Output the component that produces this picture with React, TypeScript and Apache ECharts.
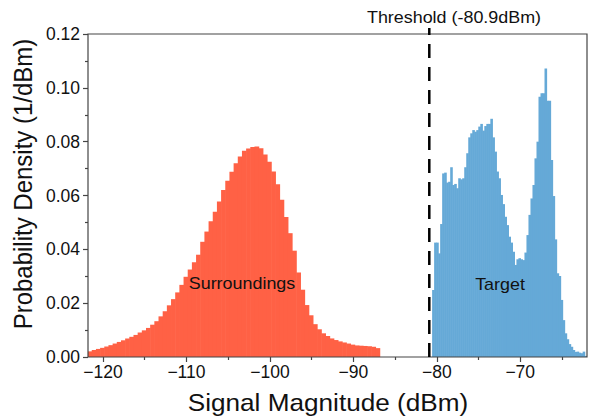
import React, { useEffect, useRef } from "react";
import * as echarts from "echarts";

// ---- data ----
const surroundStart = -121.85; // dBm, left edge of first bin
const surroundBinWidth = 0.5; // dBm
const surroundValues = [
  0.0021, 0.0026, 0.003, 0.0034, 0.0039, 0.0044, 0.005, 0.0056, 0.0062, 0.0069,
  0.0075, 0.0082, 0.0091, 0.0099, 0.0108, 0.012, 0.0133, 0.0151, 0.017, 0.0192,
  0.0215, 0.024, 0.0268, 0.0298, 0.0325, 0.0352, 0.038, 0.0428, 0.0466, 0.0504,
  0.054, 0.0578, 0.062, 0.0655, 0.0688, 0.072, 0.0745, 0.0766, 0.0775, 0.078,
  0.0782, 0.0776, 0.0752, 0.0725, 0.0689, 0.0642, 0.0584, 0.052, 0.046, 0.0395,
  0.0314, 0.025, 0.0193, 0.0155, 0.0122, 0.0103, 0.0088, 0.0078, 0.0069, 0.0063,
  0.0058, 0.0054, 0.005, 0.0046, 0.0043, 0.0042, 0.0041, 0.004, 0.0038, 0.0033,
];

const targetStart = -80.56;
const targetBinWidth = 0.2405;
const targetValues = [
  0.0249, 0.0425, 0.0425, 0.0385, 0.0494, 0.0682, 0.0685, 0.0648, 0.0651, 0.0705,
  0.0639, 0.0643, 0.0627, 0.0664, 0.066, 0.0664, 0.0705, 0.0757, 0.0816, 0.0831,
  0.0843, 0.0837, 0.0843, 0.0856, 0.0866, 0.0841, 0.0858, 0.0866, 0.0866, 0.0885,
  0.0816, 0.0763, 0.0689, 0.0664, 0.0602, 0.0568, 0.0521, 0.049, 0.0447, 0.0425,
  0.0391, 0.0342, 0.0363, 0.0367, 0.0363, 0.036, 0.0388, 0.0453, 0.0528, 0.0589,
  0.0639, 0.0738, 0.08, 0.0967, 0.098, 0.098, 0.1072, 0.0952, 0.0952, 0.0732,
  0.0598, 0.0437, 0.0311, 0.0301, 0.0212, 0.0137, 0.0088, 0.0066, 0.0048, 0.0038,
  0.0026, 0.0019, 0.002, 0.0016, 0.0014, 0.002, 0.0004,
];

const thresholdValue = -80.9;
const thresholdTop = 0.1222;
const xTickValues = [-120, -110, -100, -90, -80, -70];
const xMin = -121.8;
const xMax = -62;
const yMin = 0;
const yMax = 0.12;
const yStep = 0.02;

const labels = {
  threshold: "Threshold (-80.9dBm)",
  surroundings: "Surroundings",
  target: "Target",
  xTitle: "Signal Magnitude (dBm)",
  yTitle: "Probability Density (1/dBm)",
};

const RED = "#FF6145";
const BLUE = "#65A9D7";
const AXIS = "#444444";
const FONT = "'Liberation Sans', Arial, Helvetica, sans-serif";

function toBins(start: number, width: number, values: number[]) {
  return values.map((v, i) => [start + i * width, start + (i + 1) * width, v]);
}

function histRender(color: string) {
  return (params: any, api: any) => {
    const p0 = api.coord([api.value(0), api.value(2)]);
    const p1 = api.coord([api.value(1), 0]);
    return {
      type: "rect",
      shape: { x: p0[0], y: p0[1], width: p1[0] - p0[0] + 0.6, height: p1[1] - p0[1] },
      style: { fill: color, stroke: null },
    };
  };
}

export default function App() {
  const ref = useRef<HTMLDivElement>(null);

  useEffect(() => {
    if (!ref.current) return;
    const chart = echarts.init(ref.current, undefined, { renderer: "svg" });
    const fmtX = (v: number) => (v < 0 ? "\u2212" + Math.abs(v) : String(v));
    chart.setOption({
      animation: false,
      backgroundColor: "#fff",
      textStyle: { fontFamily: FONT },
      grid: {
        left: 88,
        right: 4,
        top: 34,
        bottom: 60,
        show: true,
        borderColor: AXIS,
        borderWidth: 1.2,
        backgroundColor: "transparent",
        z: 3,
      },
      xAxis: {
        type: "value",
        min: xMin,
        max: xMax,
        minInterval: 10,
        maxInterval: 10,
        axisLine: { show: false },
        axisTick: { show: true, inside: false, length: 5, customValues: xTickValues, lineStyle: { color: AXIS, width: 1.2 } },
        minorTick: { show: true, splitNumber: 2, length: 3, lineStyle: { color: AXIS, width: 1.2 } },
        axisLabel: {
          customValues: xTickValues,
          formatter: fmtX,
          fontSize: 17.5,
          color: "#111",
          margin: 6,
          fontFamily: FONT,
        },
        splitLine: { show: false },
        minorSplitLine: { show: false },
      },
      yAxis: {
        type: "value",
        min: yMin,
        max: yMax,
        interval: yStep,
        axisLine: { show: false },
        axisTick: { show: true, inside: false, length: 5, lineStyle: { color: AXIS, width: 1.2 } },
        minorTick: { show: true, splitNumber: 2, length: 3, lineStyle: { color: AXIS, width: 1.2 } },
        axisLabel: {
          formatter: (v: number) => v.toFixed(2),
          fontSize: 17.5,
          color: "#111",
          margin: 8,
          fontFamily: FONT,
        },
        splitLine: { show: false },
      },
      series: [
        {
          type: "custom",
          name: "Surroundings",
          renderItem: histRender(RED),
          data: toBins(surroundStart, surroundBinWidth, surroundValues),
          encode: { x: [0, 1], y: 2 },
          clip: true,
        },
        {
          type: "custom",
          name: "Target",
          renderItem: histRender(BLUE),
          data: toBins(targetStart, targetBinWidth, targetValues),
          encode: { x: [0, 1], y: 2 },
          clip: true,
        },
        {
          type: "line",
          name: "Threshold",
          data: [
            [thresholdValue, 0],
            [thresholdValue, thresholdTop],
          ],
          symbol: "none",
          showSymbol: false,
          clip: false,
          z: 5,
          lineStyle: { color: "#000", width: 2.5, type: [14, 9] },
        },
      ],
      graphic: [
        {
          type: "text",
          x: 454,
          y: 18,
          scaleX: 1.12,
          style: { text: labels.threshold, fontSize: 16, fill: "#111", align: "center", verticalAlign: "middle", fontFamily: FONT },
        },
        {
          type: "text",
          x: 242,
          y: 284,
          scaleX: 1.12,
          z: 10,
          style: { text: labels.surroundings, fontSize: 16, fill: "#111", align: "center", verticalAlign: "middle", fontFamily: FONT },
        },
        {
          type: "text",
          x: 500,
          y: 285,
          scaleX: 1.12,
          z: 10,
          style: { text: labels.target, fontSize: 16, fill: "#111", align: "center", verticalAlign: "middle", fontFamily: FONT },
        },
        {
          type: "text",
          x: 328,
          y: 402,
          scaleX: 1.09,
          style: { text: labels.xTitle, fontSize: 24, fill: "#111", align: "center", verticalAlign: "middle", fontFamily: FONT },
        },
        {
          type: "text",
          x: 23,
          y: 184,
          rotation: Math.PI / 2,
          scaleY: 1.1,
          style: { text: labels.yTitle, fontSize: 24, fill: "#111", align: "center", verticalAlign: "middle", fontFamily: FONT },
        },
      ],
    });
    return () => chart.dispose();
  }, []);

  return (
    <div
      ref={ref}
      style={{ position: "fixed", left: 0, top: 0, width: 591, height: 417, background: "#fff" }}
    />
  );
}
